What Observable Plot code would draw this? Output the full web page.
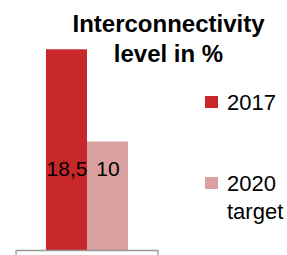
<!DOCTYPE html>
<html><head><meta charset="utf-8">
<script src="https://cdn.jsdelivr.net/npm/d3@7"></script>
<script src="https://cdn.jsdelivr.net/npm/@observablehq/plot@0.6"></script>
<style>
body{margin:0;background:#fff;}
#wrap{position:relative;width:287px;height:255px;overflow:hidden;font-family:"Liberation Sans",Arial,sans-serif;color:#000;}
#wrap svg{position:absolute;left:0;top:0;}
#title{position:absolute;left:40px;width:257px;top:9px;text-align:center;font-weight:bold;font-size:24px;line-height:30px;white-space:nowrap;}
.lg-item{position:absolute;left:205px;font-size:22px;line-height:28px;}
.lg-sw{position:absolute;left:0;width:13px;height:12px;}
.lg-tx{position:absolute;left:22px;top:0;width:80px;}
</style>
</head><body>
<div id="wrap"><div id="title">Interconnectivity<br>level in %</div></div>
<script>
const series = ["2017", "2020 target"];
const values = [18.5, 10];
const valueLabels = ["18,5", "10"];
const legendLabels = [["2017"], ["2020", "target"]];
const colors = ["#c8282a", "#d9a0a0"];
const titleLines = ["Interconnectivity", "level in %"];

const data = series.map((s, i) => ({series: s, value: values[i], label: valueLabels[i]}));

const plot = Plot.plot({
  width: 287,
  height: 255,
  marginTop: 33,
  marginBottom: 5,
  marginLeft: 16,
  marginRight: 129,
  style: {background: "transparent", fontFamily: "Liberation Sans, Arial, sans-serif"},
  x: {type: "band", domain: series, paddingInner: 0, paddingOuter: 0.73, round: false, axis: null},
  y: {domain: [0, 20], axis: null},
  color: {domain: series, range: colors},
  marks: [
    Plot.barY(data, {x: "series", y: "value", fill: "series"}),
    Plot.ruleY([0], {stroke: "#999", strokeWidth: 1.3}),
    Plot.text(data, {x: "series", text: "label", frameAnchor: "bottom", dy: -75, fontSize: 21, fill: "#000", fontFamily: "Liberation Sans, Arial, sans-serif"})
  ]
});

const wrap = document.getElementById("wrap");
wrap.insertBefore(plot, wrap.firstChild);

// category boundary ticks below the baseline, from the plot's own scales
const xs = plot.scale("x"), ys = plot.scale("y");
const y0 = ys.apply(0);
const svg = d3.select(plot);
svg.append("g").attr("stroke", "#999").attr("stroke-width", 1.3)
  .selectAll("line").data(xs.range).join("line")
  .attr("x1", d => d).attr("x2", d => d)
  .attr("y1", y0).attr("y2", 255);

// legend
const cs = plot.scale("color");
const legendTops = [89, 170];
const items = d3.select(wrap).selectAll(".lg-item").data(series).join("div")
  .attr("class", "lg-item")
  .style("top", (d, i) => legendTops[i] + "px");
items.append("div").attr("class", "lg-sw")
  .style("top", "7px")
  .style("background", d => cs.apply(d));
items.append("div").attr("class", "lg-tx")
  .html((d, i) => legendLabels[i].join("<br>"));
</script>
</body></html>
